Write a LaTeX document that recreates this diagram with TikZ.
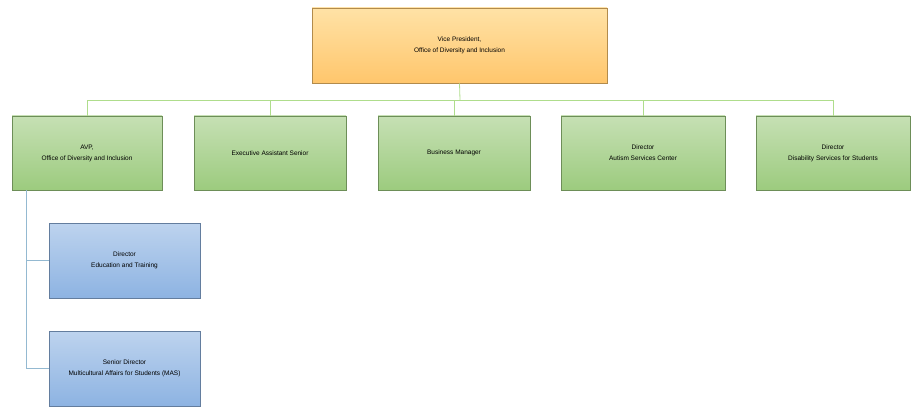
\documentclass[tikz,border=0pt]{standalone}
\usepackage{fontspec}
\setmainfont{Liberation Sans}
\begin{document}
\begin{tikzpicture}[x=1pt,y=-1pt,
  box/.style={draw=#1!60!gray, line width=0.6pt, font=\fontsize{6.5}{11}\selectfont, align=center, inner sep=0pt},
  org/.style={box=orange, top color=orange!35!white, bottom color=orange!60!yellow!70!white},
  grn/.style={box=green!40!gray, top color=green!40!olive!18!white!95!black, bottom color=green!50!olive!40!white},
  blu/.style={box=blue!40!gray, top color=blue!50!cyan!25!white, bottom color=blue!50!cyan!45!white},
  gl/.style={draw=green!40!olive!45!white, line width=0.8pt},
  bl/.style={draw=blue!40!cyan!40!gray!60!white, line width=0.8pt}]
\useasboundingbox (0,0) rectangle (920,414);
\definecolor{og1}{HTML}{FFE2A6}\definecolor{og2}{HTML}{FFC66C}
\definecolor{gr1}{HTML}{C6E0B4}\definecolor{gr2}{HTML}{9CCB7E}
\definecolor{bu1}{HTML}{BDD3EE}\definecolor{bu2}{HTML}{8DB3E2}
\tikzset{org/.append style={top color=og1,bottom color=og2,draw=og2!70!black},
 grn/.append style={top color=gr1,bottom color=gr2,draw=gr2!70!black},
 blu/.append style={top color=bu1,bottom color=bu2,draw=bu2!70!black}}
\node[org, minimum width=295, minimum height=75] (vp) at (459.5,45.5) {Vice President,\\Office of Diversity and Inclusion};
\node[grn, minimum width=150, minimum height=74] (avp) at (87,153) {AVP,\\Office of Diversity and Inclusion};
\node[grn, minimum width=152, minimum height=74] (ea) at (270,153) {Executive Assistant Senior};
\node[grn, minimum width=152, minimum height=74] (bm) at (454,153) {Business Manager};
\node[grn, minimum width=164, minimum height=74] (asc) at (643,153) {Director\\Autism Services Center};
\node[grn, minimum width=154, minimum height=74] (dss) at (833,153) {Director\\Disability Services for Students};
\node[blu, minimum width=151, minimum height=75] (det) at (124.5,260.5) {Director\\Education and Training};
\node[blu, minimum width=151, minimum height=75] (mas) at (124.5,368.5) {Senior Director\\Multicultural Affairs for Students (MAS)};
\coordinate (bus) at (460,100);
\draw[gl] (vp.south) -- (bus);
\foreach \n in {avp,ea,bm,asc,dss}{\draw[gl] (bus) -| (\n.north);}
\draw[bl] ([xshift=-61pt]avp.south) |- (det.west);
\draw[bl] ([xshift=-61pt]avp.south) |- (mas.west);
\end{tikzpicture}
\end{document}
